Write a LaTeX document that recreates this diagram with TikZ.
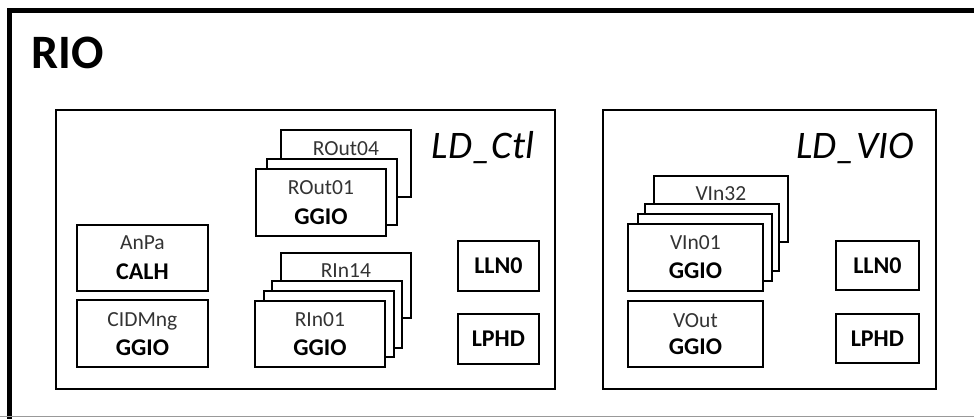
\documentclass[tikz,border=0pt]{standalone}
\usepackage{fontspec}
\setmainfont{Carlito}
\begin{document}
\begin{tikzpicture}[x=1pt,y=-1pt,
  lbox/.style={draw, line width=1.8pt, fill=white, inner sep=0pt, anchor=north west},
  ldbox/.style={draw, line width=2.2pt, inner sep=0pt, anchor=north west},
  nm/.style={font=\fontsize{21.5}{24}\selectfont, text=black!80, inner sep=0pt, anchor=base},
  ty/.style={font=\bfseries\fontsize{24}{28}\selectfont, inner sep=0pt, anchor=base},
  tyc/.style={font=\bfseries\fontsize{24}{28}\selectfont, inner sep=0pt},
  ldt/.style={font=\itshape\fontsize{39}{44}\selectfont, inner sep=0pt, anchor=base}]
\useasboundingbox (0,0) rectangle (974,418);
\clip (0,0) rectangle (974,418);
% outer frame (cut at right and bottom)
\draw[line width=5pt] (9.5,430) -- (9.5,10) -- (990,10);
\draw[black!40, line width=1.5pt] (0,416.5) -- (974,416.5);
\node[font=\bfseries\fontsize{48}{52}\selectfont, anchor=base west, inner sep=0pt] (rio) at (31,68) {RIO};

% ---------------- LD_Ctl ----------------
\node[ldbox, minimum width=499pt, minimum height=279pt] (ctl) at (55,109) {};
\node[ldt] (ctlt) at (483,158) {LD\_Ctl};

\node[lbox, minimum width=131pt, minimum height=66pt] (anpa) at (76,224) {};
\node[nm] (anpan) at ([yshift=-25pt]anpa.north) {AnPa};
\node[ty] (anpat) at ([yshift=-55pt]anpa.north) {CALH};

\node[lbox, minimum width=131pt, minimum height=67pt] (cid) at (76,299) {};
\node[nm] (cidn) at ([yshift=-27pt]cid.north) {CIDMng};
\node[ty] (cidt) at ([yshift=-56pt]cid.north) {GGIO};

\node[lbox, minimum width=130pt, minimum height=67pt] (rout4) at (280,129) {};
\node[nm] (rout4n) at ([yshift=-26pt]rout4.north) {ROut04};
\node[lbox, minimum width=130pt, minimum height=66pt] (rout2) at (266,158) {};
\node[lbox, minimum width=130pt, minimum height=67pt] (rout1) at (255,168) {};
\node[nm] (rout1n) at ([yshift=-26pt]rout1.north) {ROut01};
\node[ty] (rout1t) at ([yshift=-56pt]rout1.north) {GGIO};

\node[lbox, minimum width=130pt, minimum height=65pt] (rin14) at (280,252) {};
\node[nm] (rin14n) at ([yshift=-25pt]rin14.north) {RIn14};
\node[lbox, minimum width=130pt, minimum height=67pt] (rin3) at (271,280) {};
\node[lbox, minimum width=130pt, minimum height=66pt] (rin2) at (263,290) {};
\node[lbox, minimum width=130pt, minimum height=66pt] (rin1) at (254,300) {};
\node[nm] (rin1n) at ([yshift=-26pt]rin1.north) {RIn01};
\node[ty] (rin1t) at ([yshift=-55pt]rin1.north) {GGIO};

\node[lbox, minimum width=81pt, minimum height=50pt] (lln0a) at (457,240) {};
\node[tyc] (lln0at) at (lln0a.center) {LLN0};
\node[lbox, minimum width=81pt, minimum height=50pt] (lphda) at (457,313) {};
\node[tyc] (lphdat) at (lphda.center) {LPHD};

% ---------------- LD_VIO ----------------
\node[ldbox, minimum width=333pt, minimum height=279pt] (vio) at (602,109) {};
\node[ldt] (viot) at (855,158) {LD\_VIO};

\node[lbox, minimum width=134pt, minimum height=66pt] (vin32) at (653,175) {};
\node[nm] (vin32n) at ([yshift=-25pt]vin32.north) {VIn32};
\node[lbox, minimum width=134pt, minimum height=67pt] (vin3) at (644,203) {};
\node[lbox, minimum width=134pt, minimum height=67pt] (vin2) at (637,213) {};
\node[lbox, minimum width=135pt, minimum height=67pt] (vin1) at (627,223) {};
\node[nm] (vin1n) at ([yshift=-26pt]vin1.north) {VIn01};
\node[ty] (vin1t) at ([yshift=-55pt]vin1.north) {GGIO};

\node[lbox, minimum width=135pt, minimum height=66pt] (vout) at (627,300) {};
\node[nm] (voutn) at ([yshift=-27pt]vout.north) {VOut};
\node[ty] (voutt) at ([yshift=-54pt]vout.north) {GGIO};

\node[lbox, minimum width=83pt, minimum height=49pt] (lln0b) at (835,240) {};
\node[tyc] (lln0bt) at (lln0b.center) {LLN0};
\node[lbox, minimum width=83pt, minimum height=49pt] (lphdb) at (835,313) {};
\node[tyc] (lphdbt) at (lphdb.center) {LPHD};
\end{tikzpicture}
\end{document}
